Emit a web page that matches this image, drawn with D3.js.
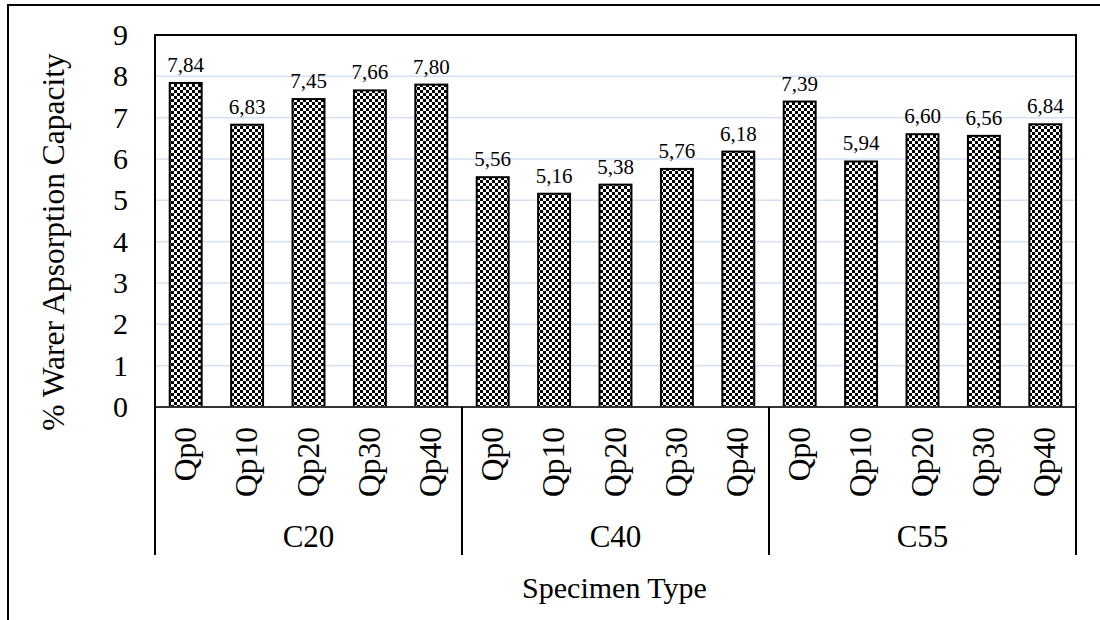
<!DOCTYPE html>
<html>
<head>
<meta charset="utf-8">
<script src="https://cdn.jsdelivr.net/npm/d3@7"></script>
<style>
  html, body { margin: 0; padding: 0; background: #fff; }
  svg { display: block; font-family: "Liberation Serif", "Times New Roman", serif; }
</style>
</head>
<body>
<svg id="chart" width="1100" height="620"></svg>
<script>
// ---- data ----
const groups = ["C20", "C40", "C55"];
const subCategories = ["Qp0", "Qp10", "Qp20", "Qp30", "Qp40"];
const valuesC20 = [7.84, 6.83, 7.45, 7.66, 7.80];
const valuesC40 = [5.56, 5.16, 5.38, 5.76, 6.18];
const valuesC55 = [7.39, 5.94, 6.60, 6.56, 6.84];
const yTicks = [0, 1, 2, 3, 4, 5, 6, 7, 8, 9];
const yTitle = "% Warer Apsorption Capacity";
const xTitle = "Specimen Type";

const groupValues = [valuesC20, valuesC40, valuesC55];
const rows = [];
groups.forEach((g, gi) => {
  subCategories.forEach((s, si) => {
    rows.push({ key: g + "|" + s, group: g, sub: s, value: groupValues[gi][si] });
  });
});

// ---- layout ----
const plot = { left: 155, right: 1076, top: 35, bottom: 407 };
const svg = d3.select("#chart");

const x = d3.scaleBand()
  .domain(rows.map(d => d.key))
  .range([plot.left, plot.right])
  .paddingInner(0.48)
  .paddingOuter(0.24);

const y = d3.scaleLinear().domain([0, 9]).range([plot.bottom, plot.top]);

// pattern
const defs = svg.append("defs");
const pat = defs.append("pattern")
  .attr("id", "checker")
  .attr("patternUnits", "userSpaceOnUse")
  .attr("width", 6).attr("height", 6);
pat.append("rect").attr("width", 6).attr("height", 6).attr("fill", "#fff");
pat.append("rect").attr("x", 0).attr("y", 0).attr("width", 3).attr("height", 3).attr("fill", "#000");
pat.append("rect").attr("x", 3).attr("y", 3).attr("width", 3).attr("height", 3).attr("fill", "#000");

// outer frame
svg.append("path")
  .attr("d", "M8,620 V5 H1100")
  .attr("fill", "none").attr("stroke", "#000").attr("stroke-width", 2);

// gridlines
svg.append("g")
  .selectAll("line")
  .data(yTicks.filter(t => t > 0 && t < 9))
  .join("line")
  .attr("x1", plot.left).attr("x2", plot.right)
  .attr("y1", d => y(d)).attr("y2", d => y(d))
  .attr("stroke", "#d3e1f3").attr("stroke-width", 1.5);

// bars
svg.append("g")
  .selectAll("rect")
  .data(rows)
  .join("rect")
  .attr("x", d => x(d.key))
  .attr("y", d => y(d.value))
  .attr("width", x.bandwidth())
  .attr("height", d => y(0) - y(d.value))
  .attr("fill", "url(#checker)")
  .attr("stroke", "#000")
  .attr("stroke-width", 2);

// data labels
svg.append("g")
  .selectAll("text")
  .data(rows)
  .join("text")
  .attr("x", d => x(d.key) + x.bandwidth() / 2)
  .attr("y", d => y(d.value) - 11)
  .attr("text-anchor", "middle")
  .attr("font-size", 21)
  .attr("fill", "#000")
  .text(d => d3.format(".2f")(d.value).replace(".", ","));

// plot area border (top, right, left)
svg.append("path")
  .attr("d", `M${plot.left},${plot.bottom} V${plot.top} H${plot.right} V${plot.bottom}`)
  .attr("fill", "none").attr("stroke", "#000").attr("stroke-width", 2);

// x axis line
svg.append("line")
  .attr("x1", plot.left).attr("x2", plot.right)
  .attr("y1", plot.bottom).attr("y2", plot.bottom)
  .attr("stroke", "#333").attr("stroke-width", 2);

// y tick labels
const yAxis = d3.axisLeft(y).tickValues(yTicks).tickSize(0).tickPadding(27);
const yg = svg.append("g").attr("transform", `translate(${plot.left},0)`).call(yAxis);
yg.select(".domain").remove();
yg.selectAll("text")
  .attr("font-size", 30)
  .attr("font-family", "Liberation Serif, Times New Roman, serif")
  .attr("fill", "#000");

// group separators
const step = x.step();
const groupBounds = groups.map(g => {
  const keys = rows.filter(r => r.group === g).map(r => r.key);
  return {
    group: g,
    x0: x(keys[0]) - step * x.paddingInner() / 2,
    x1: x(keys[keys.length - 1]) + x.bandwidth() + step * x.paddingInner() / 2
  };
});
groupBounds[0].x0 = plot.left;
groupBounds[groupBounds.length - 1].x1 = plot.right;
const sepX = [groupBounds[0].x0].concat(groupBounds.map(b => b.x1));
svg.append("g")
  .selectAll("line")
  .data(sepX)
  .join("line")
  .attr("x1", d => d).attr("x2", d => d)
  .attr("y1", plot.bottom).attr("y2", 555)
  .attr("stroke", "#000").attr("stroke-width", 2);

// sub-category labels (rotated)
svg.append("g")
  .selectAll("text")
  .data(rows)
  .join("text")
  .attr("transform", d => `translate(${x(d.key) + x.bandwidth() / 2 + 10},427) rotate(-90)`)
  .attr("text-anchor", "end")
  .attr("font-size", 31.5)
  .attr("fill", "#000")
  .text(d => d.sub);

// group labels
svg.append("g")
  .selectAll("text")
  .data(groupBounds)
  .join("text")
  .attr("x", d => (d.x0 + d.x1) / 2)
  .attr("y", 547)
  .attr("text-anchor", "middle")
  .attr("font-size", 31)
  .attr("fill", "#000")
  .text(d => d.group);

// axis titles
svg.append("text")
  .attr("x", (plot.left + plot.right) / 2 - 1)
  .attr("y", 598)
  .attr("text-anchor", "middle")
  .attr("font-size", 30)
  .attr("fill", "#000")
  .text(xTitle);

svg.append("text")
  .attr("transform", `translate(64,242) rotate(-90)`)
  .attr("text-anchor", "middle")
  .attr("font-size", 31.5)
  .attr("fill", "#000")
  .text(yTitle);
</script>
</body>
</html>
